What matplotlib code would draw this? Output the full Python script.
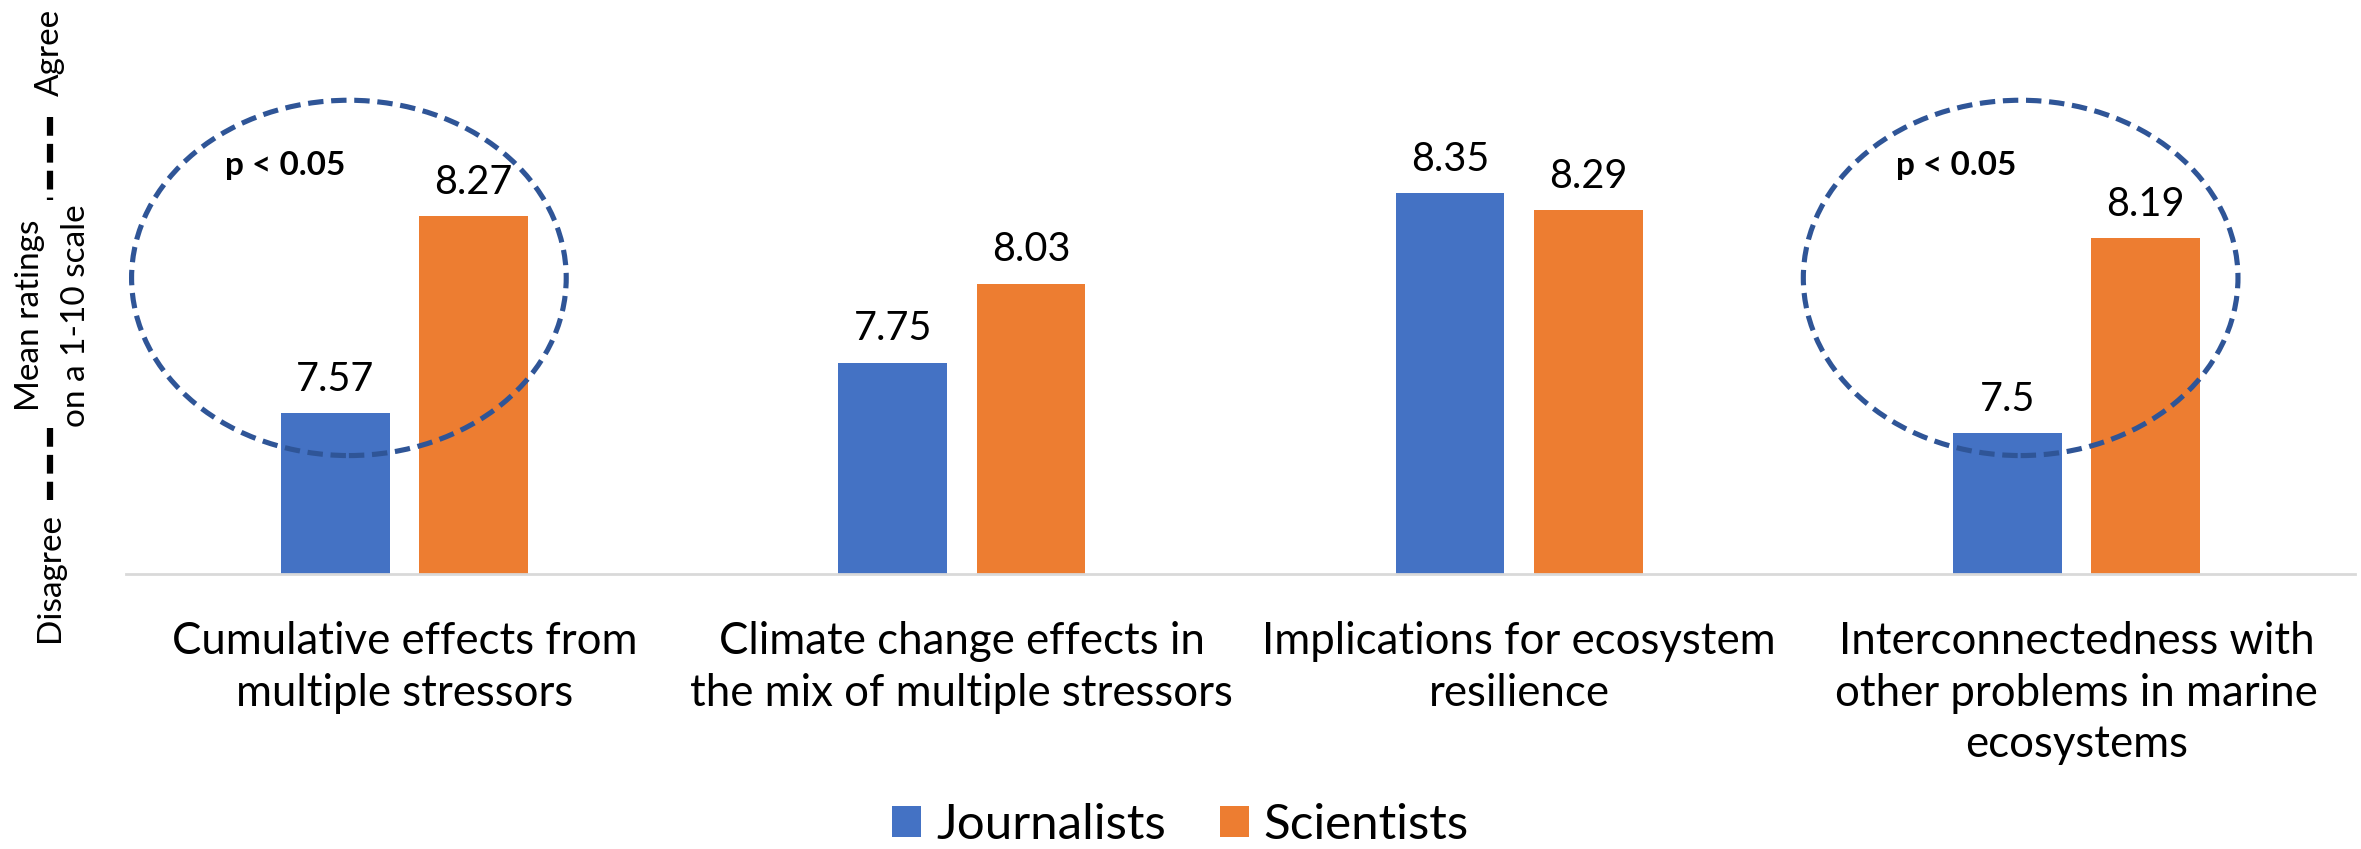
import numpy as np
import matplotlib
matplotlib.use("Agg")
import matplotlib.pyplot as plt
from matplotlib.patches import Ellipse
from matplotlib.lines import Line2D

plt.rcParams['font.family'] = ['Lato', 'DejaVu Sans']

# ---- data ----
categories = [
    "Cumulative effects from\nmultiple stressors",
    "Climate change effects in\nthe mix of multiple stressors",
    "Implications for ecosystem\nresilience",
    "Interconnectedness with\nother problems in marine\necosystems",
]
journalists = [7.57, 7.75, 8.35, 7.5]
scientists = [8.27, 8.03, 8.29, 8.19]
series_names = ["Journalists", "Scientists"]
significant = [0, 3]  # categories with p < 0.05

BLUE = '#4472C4'
ORANGE = '#ED7D31'
RING = '#2F5597'

W, H = 2361, 849
fig = plt.figure(figsize=(W / 100, H / 100), dpi=100)
ax = fig.add_axes([126 / W, 1 - 574 / H, (2355 - 126) / W, (574 - 10) / H])

x = np.arange(len(categories))
bw = 0.195
off = 0.124
b1 = ax.bar(x - off, journalists, bw, bottom=0, color=BLUE, label=series_names[0], zorder=2)
b2 = ax.bar(x + off, scientists, bw, bottom=0, color=ORANGE, label=series_names[1], zorder=2)

ax.set_ylim(7, 9.0)
ax.set_xlim(-0.5, len(categories) - 0.5)

# value labels
for bars, vals in ((b1, journalists), (b2, scientists)):
    for rect, v in zip(bars, vals):
        ax.annotate(f"{v:g}", (rect.get_x() + rect.get_width() / 2, v),
                    xytext=(0, 11), textcoords='offset points',
                    ha='center', va='bottom', fontsize=28.5)

# dashed rings around the significant pairs
for i in significant:
    ax.add_patch(Ellipse((i - 0.10, 8.05), 0.78, 1.26, fill=False,
                         edgecolor=RING, lw=3.7, linestyle=(0, (3, 1.5)), zorder=3))
    ax.text(i - 0.215, 8.45, "p < 0.05", fontsize=24, fontweight='bold',
            ha='center', va='center')

ax.set_xticks(x)
ax.set_xticklabels(categories, fontsize=31.5, linespacing=1.32)
ax.tick_params(axis='x', length=0, pad=34)
ax.set_yticks([])
for s in ('left', 'right', 'top'):
    ax.spines[s].set_visible(False)
ax.spines['bottom'].set_color('#D9D9D9')
ax.spines['bottom'].set_linewidth(2)

# axis caption: Disagree ---- Mean ratings on a 1-10 scale ---- Agree
def fx(px):
    return px / W

def fy(py):
    return 1 - py / H

fig.text(fx(50), fy(52), "Agree", rotation=90, ha='center', va='center', fontsize=24)
fig.text(fx(30), fy(315), "Mean ratings", rotation=90, ha='center', va='center', fontsize=24)
fig.text(fx(76), fy(316), "on a 1-10 scale", rotation=90, ha='center', va='center', fontsize=24)
fig.text(fx(50), fy(578), "Disagree", rotation=90, ha='center', va='center', fontsize=24)
for y0, y1 in ((117, 200), (428, 500)):
    fig.add_artist(Line2D([fx(50), fx(50)], [fy(y0), fy(y1)], transform=fig.transFigure,
                          color='black', lw=4.5, dashes=(3, 1.3)))

fig.legend(handles=[b1, b2], labels=series_names, loc='center', bbox_to_anchor=(0.5, 1 - 825 / H),
           ncol=2, frameon=False, fontsize=35.5, handlelength=0.59, handleheight=0.59,
           handletextpad=0.3, columnspacing=1.1)

fig.savefig("out.png", dpi=100)
